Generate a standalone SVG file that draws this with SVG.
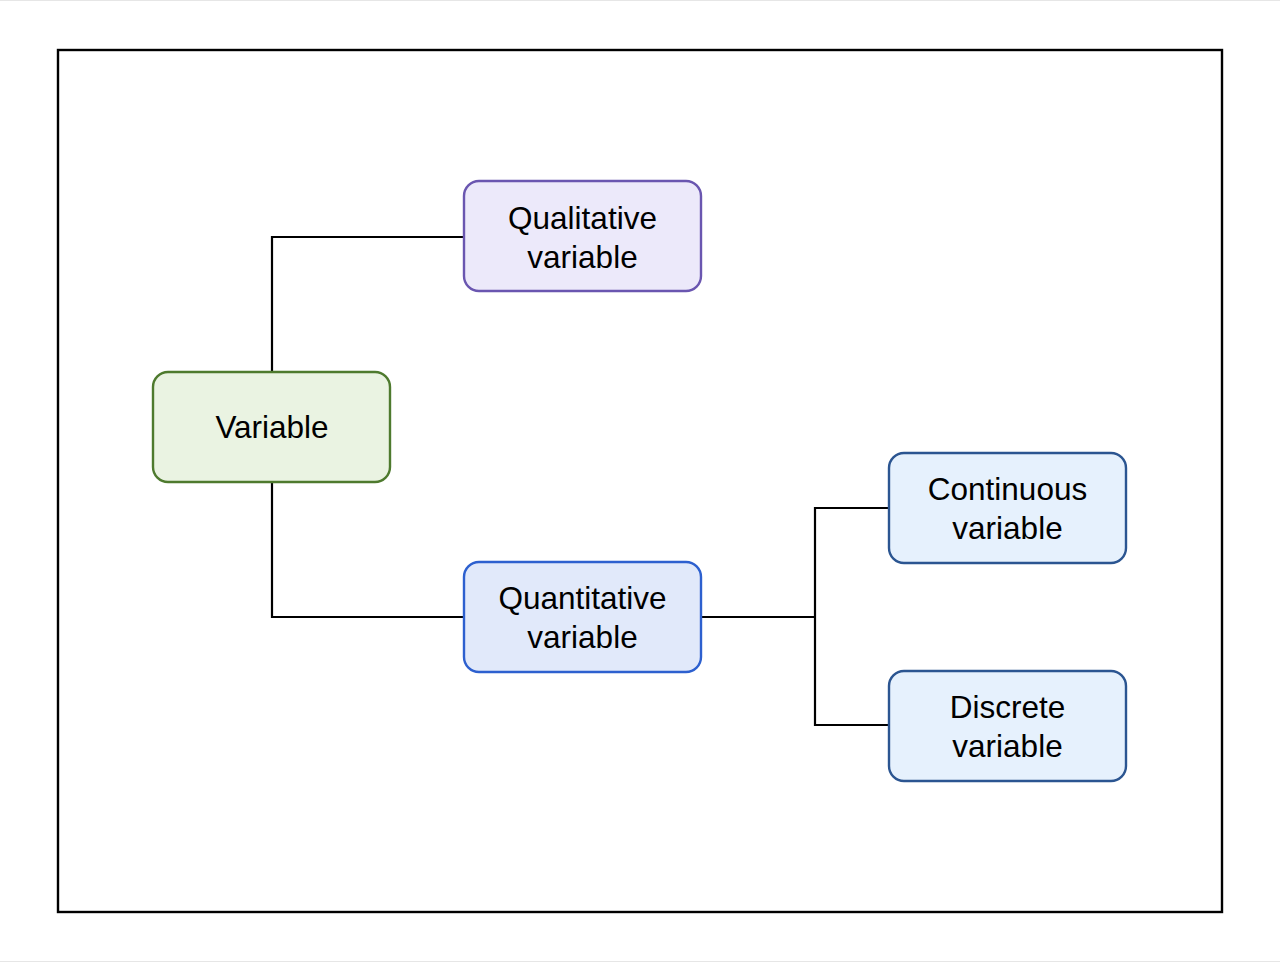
<svg xmlns="http://www.w3.org/2000/svg" width="1280" height="963" viewBox="0 0 1280 963">
<style>
.node rect{stroke-width:2.4}
.node text{font-family:"Liberation Sans",Arial,sans-serif;font-size:31.5px;fill:#000;text-anchor:middle}
#connectors path{fill:none;stroke:#000;stroke-width:2.2}
</style>
<rect x="0" y="0" width="1280" height="963" fill="#fff"/>
<line x1="0" y1="0.5" x2="1280" y2="0.5" stroke="#e6e6e6" stroke-width="1"/>
<line x1="0" y1="961.5" x2="1280" y2="961.5" stroke="#e6e6e6" stroke-width="1"/>
<rect id="frame" x="58" y="50" width="1164" height="862" fill="none" stroke="#000" stroke-width="2.4"/>
<g id="connectors">
<path d="M272 372 V237 H464"/>
<path d="M272 482 V617 H464"/>
<path d="M701 617 H815"/>
<path d="M889 508 H815 V725 H889"/>
</g>
<g id="variable" class="node">
<rect x="153" y="372" width="237" height="110" rx="15" fill="#eaf3e2" stroke="#4e7a2e"/>
<text x="272" y="438">Variable</text>
</g>
<g id="qualitative" class="node">
<rect x="464" y="181" width="237" height="110" rx="15" fill="#ece9fa" stroke="#6a56b0"/>
<text x="582.5" y="228.5">Qualitative</text>
<text x="582.5" y="267.5">variable</text>
</g>
<g id="quantitative" class="node">
<rect x="464" y="562" width="237" height="110" rx="15" fill="#e1e9fa" stroke="#2d60cf"/>
<text x="582.5" y="609">Quantitative</text>
<text x="582.5" y="648">variable</text>
</g>
<g id="continuous" class="node">
<rect x="889" y="453" width="237" height="110" rx="15" fill="#e6f1fd" stroke="#2b5591"/>
<text x="1007.5" y="500">Continuous</text>
<text x="1007.5" y="539">variable</text>
</g>
<g id="discrete" class="node">
<rect x="889" y="671" width="237" height="110" rx="15" fill="#e6f1fd" stroke="#2b5591"/>
<text x="1007.5" y="718">Discrete</text>
<text x="1007.5" y="757">variable</text>
</g>
</svg>
